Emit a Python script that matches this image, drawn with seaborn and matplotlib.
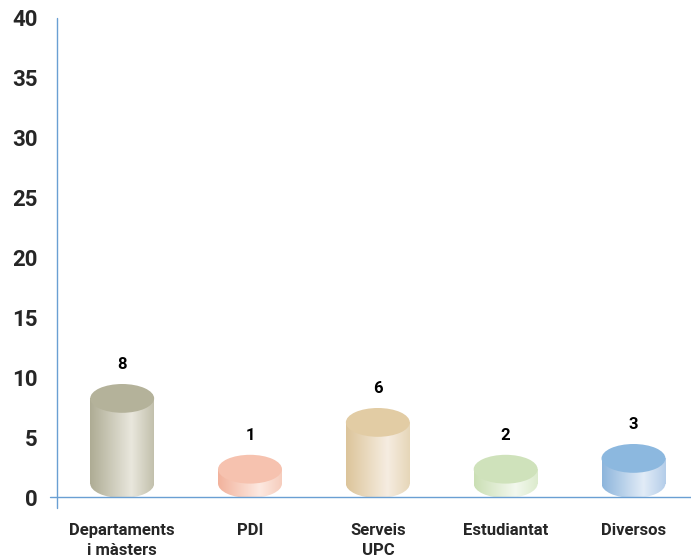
import numpy as np
import matplotlib
matplotlib.use("Agg")
import matplotlib.pyplot as plt
import seaborn as sns
from matplotlib.patches import Ellipse
from matplotlib.colors import LinearSegmentedColormap

categories = ["Departaments\ni màsters", "PDI", "Serveis\nUPC", "Estudiantat", "Diversos"]
values = [8, 1, 6, 2, 3]
y_ticks = [0, 5, 10, 15, 20, 25, 30, 35, 40]

# cylinder shading: left edge, highlight, right edge, top cap
shades = [
    ("#aeac94", "#e9e7dd", "#c2c0ac", "#b4b29a"),
    ("#f2b29c", "#fde9e1", "#f6cdbd", "#f6c2af"),
    ("#dcc49a", "#f6ede1", "#e6d6b8", "#e2cca4"),
    ("#cadfb4", "#f3f8ee", "#dcebcd", "#cfe2bb"),
    ("#8db5dc", "#e2ecf7", "#b4cde9", "#8cb8df"),
]

sns.set_theme(style="white")
plt.rcParams["font.family"] = ["Roboto", "DejaVu Sans"]

fig = plt.figure(figsize=(6.91, 5.59), dpi=100)
ax = fig.add_axes([57 / 691, 61 / 559, 634 / 691, 480 / 559])

half_h = 1.2      # half height of the elliptical caps (data units)
bar_w = 0.5
tops = [max(v + 0.3, 2 * half_h) for v in values]

sns.barplot(x=list(range(len(values))), y=tops, width=bar_w, color="#cccccc",
            ax=ax, native_scale=True)

for i, p in enumerate(ax.patches):
    left_c, mid_c, right_c, top_c = shades[i]
    cmap = LinearSegmentedColormap.from_list("c%d" % i, [(0, left_c), (0.65, mid_c), (1, right_c)])
    x0 = p.get_x()
    w = p.get_width()
    t = tops[i]
    p.set_y(half_h)
    p.set_height(t - half_h)
    p.set_facecolor("none")
    p.set_edgecolor("none")
    grad = np.linspace(0, 1, 256).reshape(1, -1)
    im = ax.imshow(grad, cmap=cmap, aspect="auto", extent=[x0, x0 + w, half_h, t], zorder=2)
    im.set_clip_path(p)
    bottom = Ellipse((x0 + w / 2, half_h), w, 2 * half_h, facecolor="none", edgecolor="none", zorder=2)
    ax.add_patch(bottom)
    im2 = ax.imshow(grad, cmap=cmap, aspect="auto", extent=[x0, x0 + w, 0, 2 * half_h], zorder=2)
    im2.set_clip_path(bottom)
    ax.add_patch(Ellipse((x0 + w / 2, t), w, 2 * half_h, facecolor=top_c, edgecolor="none", zorder=3))
    ax.text(x0 + w / 2, t + half_h + 1.6, str(values[i]), ha="center", va="center",
            fontsize=12, fontweight="bold", color="black", zorder=4)

ax.set_xlim(-0.51, 4.45)
ax.set_ylim(0, 40)
ax.set_yticks(y_ticks)
ax.set_yticklabels([str(t) for t in y_ticks], fontsize=16, fontweight="bold")
ax.set_xticks(range(len(categories)))
ax.set_xticklabels(categories, fontsize=12, fontweight="bold", linespacing=1.45)
ax.tick_params(axis="y", length=0, pad=14)
ax.tick_params(axis="x", length=0, pad=18)
ax.set_xlabel("")
ax.set_ylabel("")
for s in ax.spines.values():
    s.set_visible(False)

axis_c = "#6a9fd3"
ax.plot([0, 0], [1, -0.02], transform=ax.transAxes, color=axis_c, lw=1, clip_on=False, zorder=5)
ax.plot([-0.011, 1], [0.002, 0.002], transform=ax.transAxes, color=axis_c, lw=1, clip_on=False, zorder=5)

fig.savefig("out.png", dpi=100)
